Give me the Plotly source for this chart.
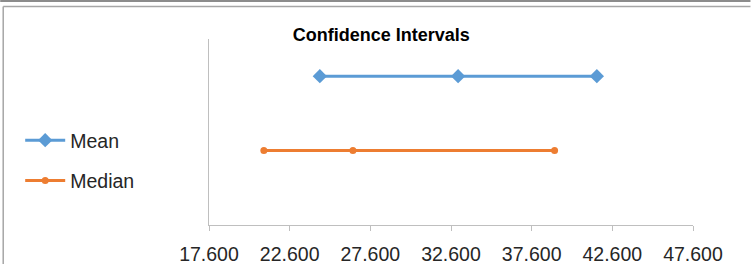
import plotly.graph_objects as go

series_names = ["Mean", "Median"]
mean_values = [24.47, 33.04, 41.64]
median_values = [21.0, 26.52, 39.02]
row_positions = [2, 1]
x_ticks = [17.6, 22.6, 27.6, 32.6, 37.6, 42.6, 47.6]
colors = ["#5B9BD5", "#ED7D31"]

fig = go.Figure()
fig.add_trace(go.Scatter(
    x=mean_values, y=[row_positions[0]] * len(mean_values),
    mode="lines+markers", name=series_names[0], legendgroup="a",
    line=dict(color=colors[0], width=3),
    marker=dict(symbol="diamond", size=11, color=colors[0]),
))
fig.add_trace(go.Scatter(
    x=median_values, y=[row_positions[1]] * len(median_values),
    mode="lines+markers", name=series_names[1], legendgroup="b",
    line=dict(color=colors[1], width=3),
    marker=dict(symbol="circle", size=7, color=colors[1]),
))

L, R, T, B = 209, 57.5, 39, 39
W, H = 751, 264
pw = W - L - R
ph = H - T - B

def px(x):
    return (x - L) / pw

def py(y):
    return (H - B - y) / ph

fig.update_layout(
    width=W, height=H,
    margin=dict(l=L, r=R, t=T, b=B, pad=0, autoexpand=False),
    paper_bgcolor="white", plot_bgcolor="white",
    font=dict(family="Liberation Sans, Arial, sans-serif", color="#404040"),
    title=dict(text="<b>Confidence Intervals</b>", x=px(381.5), xanchor="center",
               xref="paper", y=1 - 35 / H, yanchor="middle", yref="container",
               font=dict(size=18, color="#000000")),
    showlegend=True,
    legend=dict(x=px(20), xanchor="left", y=py(121), yanchor="top",
                font=dict(size=19.5, color="#262626"), traceorder="grouped",
                tracegroupgap=12, bgcolor="rgba(0,0,0,0)", itemwidth=40),
    xaxis=dict(range=[x_ticks[0], x_ticks[-1]], tickvals=x_ticks, tickformat=".3f",
               showgrid=False, zeroline=False, showline=True, linecolor="#BFBFBF",
               linewidth=1, ticks="outside", ticklen=5, tickcolor="#BFBFBF",
               tickfont=dict(size=19.5, color="#262626"), ticklabelstandoff=7,
               automargin=False),
    yaxis=dict(range=[0, 2.5], showgrid=False, zeroline=False, showline=True,
               linecolor="#BFBFBF", linewidth=1, showticklabels=False, ticks="",
               automargin=False),
    shapes=[
        dict(type="line", xref="paper", yref="paper", x0=px(0), x1=px(W), y0=py(1), y1=py(1),
             line=dict(color="#8C8C8C", width=2)),
        dict(type="line", xref="paper", yref="paper", x0=px(3), x1=px(W), y0=py(6.5), y1=py(6.5),
             line=dict(color="#A6A6A6", width=1.5)),
        dict(type="line", xref="paper", yref="paper", x0=px(3), x1=px(3), y0=py(6.5), y1=py(H),
             line=dict(color="#A6A6A6", width=1.5)),
    ],
)

fig.write_html("out.html", config={"displayModeBar": False},
               post_script="document.body.style.margin='0px';document.body.style.overflow='hidden';")
